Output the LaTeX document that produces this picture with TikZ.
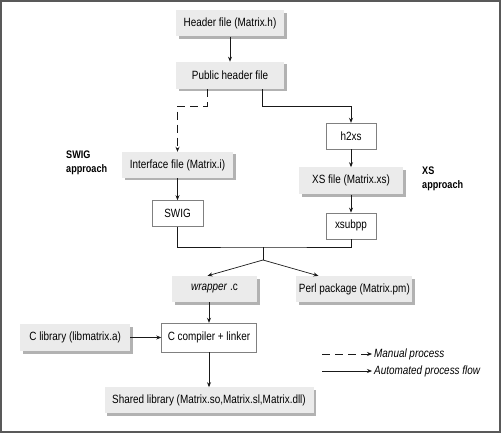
\documentclass[tikz,border=0pt]{standalone}
\usepackage{fontspec}
\setmainfont{Liberation Sans}[FakeStretch=0.83]
\usetikzlibrary{positioning}
\usetikzlibrary{calc}
\usetikzlibrary{shadows,arrows.meta}

\begin{document}
\begin{tikzpicture}[
    x=1bp, y=1bp,
    font=\fontsize{12}{14}\selectfont,
    filebox/.style={rectangle, fill=black!8, inner sep=0pt, minimum height=26bp,
        drop shadow={shadow xshift=2.5bp, shadow yshift=-2.5bp, opacity=1, fill=black!30}},
    progbox/.style={rectangle, draw=black!50, fill=white, inner sep=0pt, minimum height=26bp},
    flow/.style={draw=black!90, line width=0.7bp, -{Stealth[length=5bp,width=4bp]}},
    manual/.style={flow, dash pattern=on 8bp off 5bp},
    approach/.style={align=left, inner sep=0pt, anchor=west, font=\fontsize{11}{14}\selectfont\bfseries},
  ]

  \useasboundingbox (0,0) rectangle (502,-434);
  \draw [black!65, line width=1.5bp] (1,-1) rectangle (500,-432);

  \node [filebox, minimum width=108bp] (HDR) at (230,-23.5) {Header file (Matrix.h)};
  \node [filebox, minimum width=108bp, minimum height=27bp, below=25bp of HDR] (PUB) {Public header file};
  \node [filebox, minimum width=111bp] (IFC) at (177.5,-165) {Interface file (Matrix.i)};
  \node [progbox, minimum width=51bp, below=22bp of IFC] (SWIG) {SWIG};
  \node [progbox, minimum width=50bp] (H2XS) at (351,-136) {h2xs};
  \node [filebox, minimum width=104bp, minimum height=27bp, below=18bp of H2XS] (XSF) {XS file (Matrix.xs)};
  \node [progbox, minimum width=50bp, below=18bp of XSF] (XSUB) {xsubpp};

  \node [approach] (SWA) at (66,-163) {SWIG\\approach};
  \node [approach] (XSA) at (422,-179) {XS\\approach};

  \coordinate (J) at (263,-247);
  \coordinate [below=13bp of J] (K);

  \node [filebox, minimum width=85bp] (WRAP) at (214.5,-289) {\textit{wrapper} .c};
  \node [filebox, minimum width=116bp, right=39bp of WRAP] (PERL) {Perl package (Matrix.pm)};
  \node [progbox, minimum width=95bp, minimum height=29bp] (CC) at (209,-337.5) {C compiler + linker};
  \node [filebox, minimum width=110bp, minimum height=27bp, left=31bp of CC] (CLIB) {C library (libmatrix.a)};
  \node [filebox, minimum width=209bp, below=35bp of CC] (SHL) {Shared library (Matrix.so,Matrix.sl,Matrix.dll)};

  % legend
  \coordinate (M1) at (322,-354);
  \coordinate [right=50bp of M1] (M2);
  \coordinate [below=17bp of M1] (A1);
  \coordinate [right=50bp of A1] (A2);
  \node [anchor=west, inner sep=2bp] (MT) at (M2) {\textit{Manual process}};
  \node [anchor=west, inner sep=2bp] (AT) at (A2) {\textit{Automated process flow}};

  \coordinate (D1) at (207,-106);
  \coordinate (S1) at (262,-106);

  \draw [flow] (HDR) -- (PUB);
  \draw [manual] (PUB.south -| D1) -- (D1) -| (IFC.north);
  \draw [flow] (PUB.south -| S1) -- (S1) -| (H2XS.north);
  \draw [flow] (IFC) -- (SWIG);
  \draw [flow] (H2XS) -- (XSF);
  \draw [flow] (XSF) -- (XSUB);
  \draw [black!90, line width=0.7bp] (SWIG.south) |- (J) -| (XSUB.south);
  \draw [black!90, line width=0.7bp] (J) -- (K);
  \draw [flow] (K) -- ([xshift=-7bp]WRAP.north);
  \draw [flow] (K) -- ([xshift=-36bp]PERL.north);
  \draw [flow] (WRAP.south -| CC.north) -- (CC.north);
  \draw [flow] (CLIB) -- (CC);
  \draw [flow] (CC) -- (SHL);
  \draw [manual] (M1) -- (M2);
  \draw [flow] (A1) -- (A2);

\end{tikzpicture}
\end{document}
